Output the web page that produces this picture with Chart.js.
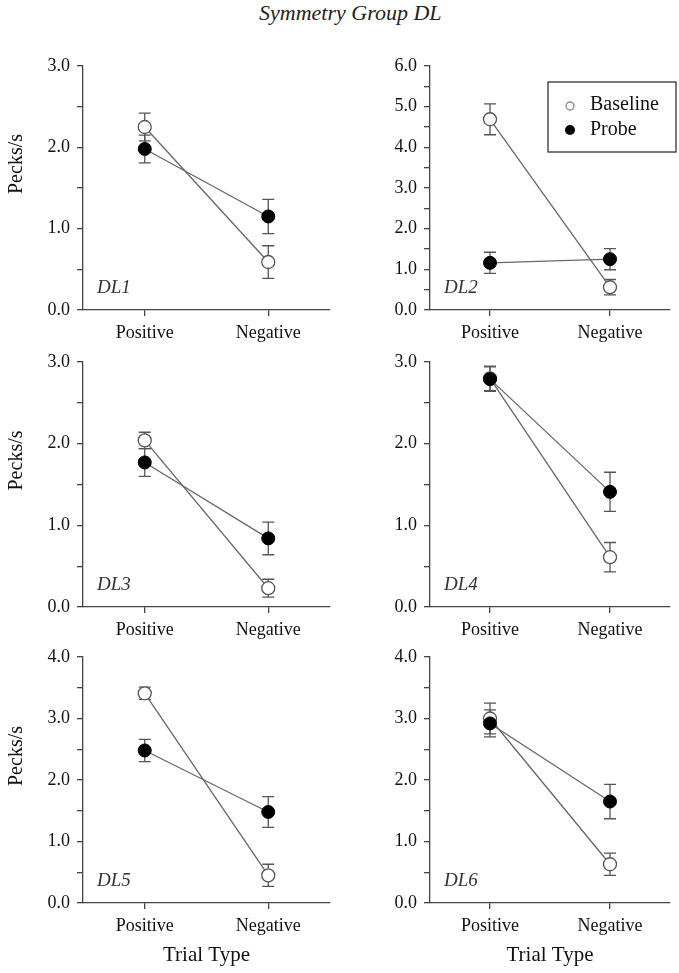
<!DOCTYPE html>
<html>
<head>
<meta charset="utf-8">
<script src="https://cdn.jsdelivr.net/npm/chart.js@4.4.0/dist/chart.umd.min.js"></script>
<style>
  body { margin: 0; background: #fff; width: 679px; height: 973px; position: relative; overflow: hidden; }
  #title { position: absolute; left: 259px; top: 0; font: italic 22px "Liberation Serif"; line-height: 26px; color: #222; }
  canvas { position: absolute; }
</style>
</head>
<body>
<div id="title">Symmetry Group DL</div>
<script>
// data
var trialTypes = ["Positive", "Negative"];
var panelNames = ["DL1", "DL2", "DL3", "DL4", "DL5", "DL6"];
var yMax = [3, 6, 3, 3, 4, 4];
var baselineMeans = [[2.25, 0.59], [4.69, 0.56], [2.04, 0.23], [2.80, 0.61], [3.41, 0.45], [3.00, 0.63]];
var baselineErr   = [[0.17, 0.20], [0.38, 0.19], [0.10, 0.11], [0.15, 0.18], [0.10, 0.18], [0.25, 0.18]];
var probeMeans    = [[1.98, 1.15], [1.16, 1.25], [1.77, 0.84], [2.79, 1.41], [2.48, 1.48], [2.92, 1.65]];
var probeErr      = [[0.17, 0.21], [0.26, 0.26], [0.17, 0.20], [0.15, 0.24], [0.18, 0.25], [0.22, 0.28]];

var FONT = "Liberation Serif";
var AXIS = "#444";

// page layout of each plot area
var axisTop = [66, 362, 657];
var axisBottom = [310, 607, 903];

var errorBars = {
  id: "errorBars",
  beforeDatasetsDraw: function(chart) {
    var ctx = chart.ctx, y = chart.scales.y;
    ctx.save();
    ctx.strokeStyle = "#555";
    ctx.lineWidth = 1.3;
    chart.data.datasets.forEach(function(ds, i) {
      var meta = chart.getDatasetMeta(i);
      meta.data.forEach(function(pt, j) {
        var hi = y.getPixelForValue(ds.data[j] + ds.err[j]);
        var lo = y.getPixelForValue(ds.data[j] - ds.err[j]);
        ctx.beginPath();
        ctx.moveTo(pt.x, hi); ctx.lineTo(pt.x, lo);
        ctx.moveTo(pt.x - 6, hi); ctx.lineTo(pt.x + 6, hi);
        ctx.moveTo(pt.x - 6, lo); ctx.lineTo(pt.x + 6, lo);
        ctx.stroke();
      });
    });
    ctx.restore();
  }
};

var panelText = {
  id: "panelText",
  afterDraw: function(chart, args, opts) {
    var ctx = chart.ctx, a = chart.chartArea;
    ctx.save();
    ctx.fillStyle = "#333";
    ctx.font = "italic 19px " + FONT;
    ctx.textBaseline = "alphabetic";
    ctx.fillText(opts.name, a.left + 14, a.bottom - 17);
    if (opts.yLabel) {
      ctx.translate(17, (a.top + a.bottom) / 2 - 24);
      ctx.rotate(-Math.PI / 2);
      ctx.fillStyle = "#111";
      ctx.font = "20px " + FONT;
      ctx.textAlign = "center";
      ctx.textBaseline = "middle";
      ctx.fillText("Pecks/s", 0, 0);
    }
    ctx.restore();
    if (opts.legend) {
      var bx = a.right - 122, by = a.top + 16, bw = 128, bh = 70;
      ctx.save();
      ctx.fillStyle = "#fff";
      ctx.fillRect(bx, by, bw, bh);
      ctx.strokeStyle = "#333";
      ctx.lineWidth = 1.3;
      ctx.strokeRect(bx, by, bw, bh);
      ctx.beginPath();
      ctx.arc(bx + 22, by + 24, 4, 0, Math.PI * 2);
      ctx.strokeStyle = "#888";
      ctx.stroke();
      ctx.beginPath();
      ctx.arc(bx + 22, by + 48, 5, 0, Math.PI * 2);
      ctx.fillStyle = "#000";
      ctx.fill();
      ctx.fillStyle = "#111";
      ctx.font = "20px " + FONT;
      ctx.textBaseline = "middle";
      ctx.fillText("Baseline", bx + 42, by + 23);
      ctx.fillText("Probe", bx + 42, by + 48);
      ctx.restore();
    }
  }
};

panelNames.forEach(function(name, p) {
  var row = Math.floor(p / 2), col = p % 2;
  var bottomRow = row === 2;
  var xH = bottomRow ? 70 : 40;
  var yW = col === 0 ? 83 : 90;
  var top = axisTop[row] - 26;
  var height = axisBottom[row] - top + xH;
  var left = col === 0 ? 0 : 340;
  var width = col === 0 ? 340 : 339;

  var canvas = document.createElement("canvas");
  canvas.width = width;
  canvas.height = height;
  canvas.style.left = left + "px";
  canvas.style.top = top + "px";
  document.body.appendChild(canvas);

  new Chart(canvas, {
    type: "line",
    data: {
      labels: trialTypes,
      datasets: [
        {
          label: "Baseline", data: baselineMeans[p], err: baselineErr[p], order: 2,
          borderColor: "#666", borderWidth: 1.3,
          pointRadius: 6.5, pointBackgroundColor: "#fff", pointBorderColor: "#555", pointBorderWidth: 1.3
        },
        {
          label: "Probe", data: probeMeans[p], err: probeErr[p], order: 1,
          borderColor: "#666", borderWidth: 1.3,
          pointRadius: 6.5, pointBackgroundColor: "#000", pointBorderColor: "#000", pointBorderWidth: 1
        }
      ]
    },
    options: {
      responsive: false,
      animation: false,
      devicePixelRatio: 1,
      layout: { padding: { top: 26, left: 0, right: width - 330, bottom: 0 } },
      plugins: {
        legend: { display: false },
        tooltip: { enabled: false },
        panelText: { name: name, yLabel: col === 0, legend: p === 1 }
      },
      scales: {
        x: {
          type: "category",
          offset: true,
          border: { display: true, color: AXIS, width: 1.3 },
          grid: { display: true, drawOnChartArea: false, drawTicks: true, tickLength: 6, offset: false, color: AXIS, lineWidth: 1.3 },
          ticks: { color: "#111", font: { family: FONT, size: 18 }, padding: 6, maxRotation: 0 },
          title: { display: bottomRow, text: "Trial Type", color: "#111", font: { family: FONT, size: 21 }, padding: { top: 4, bottom: 5 } },
          afterFit: function(scale) { scale.height = xH; }
        },
        y: {
          min: 0,
          max: yMax[p],
          border: { display: true, color: AXIS, width: 1.3 },
          grid: { display: true, drawOnChartArea: false, drawTicks: true, tickLength: 6, color: AXIS, lineWidth: 1.3 },
          ticks: {
            stepSize: 0.5, autoSkip: false, color: "#111", padding: 7,
            font: { family: FONT, size: 18 },
            callback: function(v) { return v % 1 === 0 ? v.toFixed(1) : ""; }
          },
          afterFit: function(scale) { scale.width = yW; }
        }
      }
    },
    plugins: [errorBars, panelText]
  });
});
</script>
</body>
</html>
